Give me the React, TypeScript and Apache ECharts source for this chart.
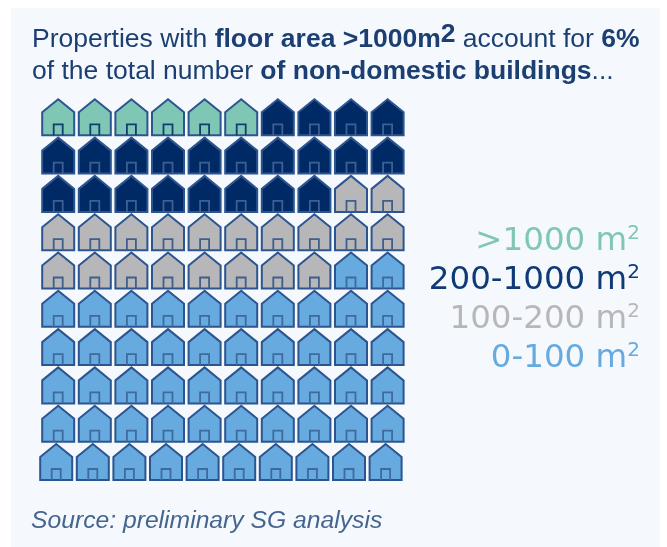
import React, { useEffect, useRef } from "react";
import * as echarts from "echarts";

const categories = [">1000 m", "200-1000 m", "100-200 m", "0-100 m"];
const counts = [6, 22, 20, 52];
const colours = ["#7fc7b4", "#002a66", "#b7b7b9", "#66aae0"];
const labelColours = ["#7fc7b4", "#0f3a78", "#b7b7b9", "#66aae0"];
const doorColours = ["#103f6f", "#3f5f90", "#3f5f8a", "#3f6a9c"];
const columnsPerRow = 10;
const rowsTotal = 10;

const houses: number[][] = [];
let index = 0;
counts.forEach((n, cat) => {
  for (let i = 0; i < n; i++) {
    houses.push([index % columnsPerRow, Math.floor(index / columnsPerRow), cat]);
    index++;
  }
});

export default function App() {
  const ref = useRef<HTMLDivElement>(null);
  useEffect(() => {
    const chart = echarts.init(ref.current!, undefined, { renderer: "svg" });
    const titleColor = "#1c3f73";
    const sans = "Liberation Sans";
    chart.setOption({
      animation: false,
      backgroundColor: "#ffffff",
      grid: { left: 40, top: 98.3, width: 366, height: 383 },
      xAxis: { type: "value", min: 0, max: columnsPerRow, show: false },
      yAxis: { type: "value", min: 0, max: rowsTotal, inverse: true, show: false },
      graphic: [
        { type: "rect", z: -10, shape: { x: 11, y: 8, width: 649, height: 539 }, style: { fill: "#f5f9fd" } },
        {
          type: "text", x: 32, y: 21.5,
          style: {
            text: "Properties with {b|floor area >1000m}{s|2} account for {b|6%}\nof the total number {b|of non-domestic buildings}...",
            fill: titleColor,
            font: `26.5px ${sans}`,
            lineHeight: 32,
            rich: {
              b: { font: `bold 26.5px ${sans}`, fill: titleColor, lineHeight: 32 },
              s: { font: `bold 26.5px ${sans}`, fill: titleColor, lineHeight: 32, padding: [0, 0, 10, 0] },
            },
          },
        },
        ...categories.map((c, i) => ({
          type: "text", x: 640, y: 239 + i * 39,
          style: {
            text: `${c}{s|2}`,
            fill: labelColours[i],
            font: "32.5px DejaVu Sans",
            align: "right",
            verticalAlign: "middle",
            rich: {
              s: { font: "20px DejaVu Sans", fill: labelColours[i], padding: [0, 0, 14, 0] },
            },
          },
        })),
        {
          type: "text", x: 31, y: 507,
          style: { text: "Source: preliminary SG analysis", fill: "#44658f", font: `italic 24.7px ${sans}` },
        },
      ],
      series: [
        {
          type: "custom",
          coordinateSystem: "cartesian2d",
          data: houses,
          encode: { x: 0, y: 1 },
          renderItem: (_: any, api: any) => {
            const col = api.value(0);
            const row = api.value(1);
            const cat = api.value(2);
            const [x0, y0] = api.coord([col, row]);
            const w = 32;
            const h = 36;
            const left = x0 + 2.2 - (row === rowsTotal - 1 ? 2 : 0);
            const top = y0 + 1;
            return {
              type: "group",
              children: [
                {
                  type: "polygon",
                  shape: {
                    points: [
                      [left, top + 13],
                      [left + w / 2, top],
                      [left + w, top + 13],
                      [left + w, top + h],
                      [left, top + h],
                    ],
                  },
                  style: { fill: colours[cat], stroke: "#2c5590", lineWidth: 2 },
                },
                {
                  type: "polyline",
                  shape: {
                    points: [
                      [left + 11.5, top + h],
                      [left + 11.5, top + 25],
                      [left + 20.5, top + 25],
                      [left + 20.5, top + h],
                    ],
                  },
                  style: { fill: "none", stroke: doorColours[cat], lineWidth: 1.8 },
                },
              ],
            };
          },
        },
      ],
    });
    return () => chart.dispose();
  }, []);
  return <div ref={ref} style={{ position: "absolute", left: 0, top: 0, width: 667, height: 547, filter: "blur(0.4px)" }} />;
}
